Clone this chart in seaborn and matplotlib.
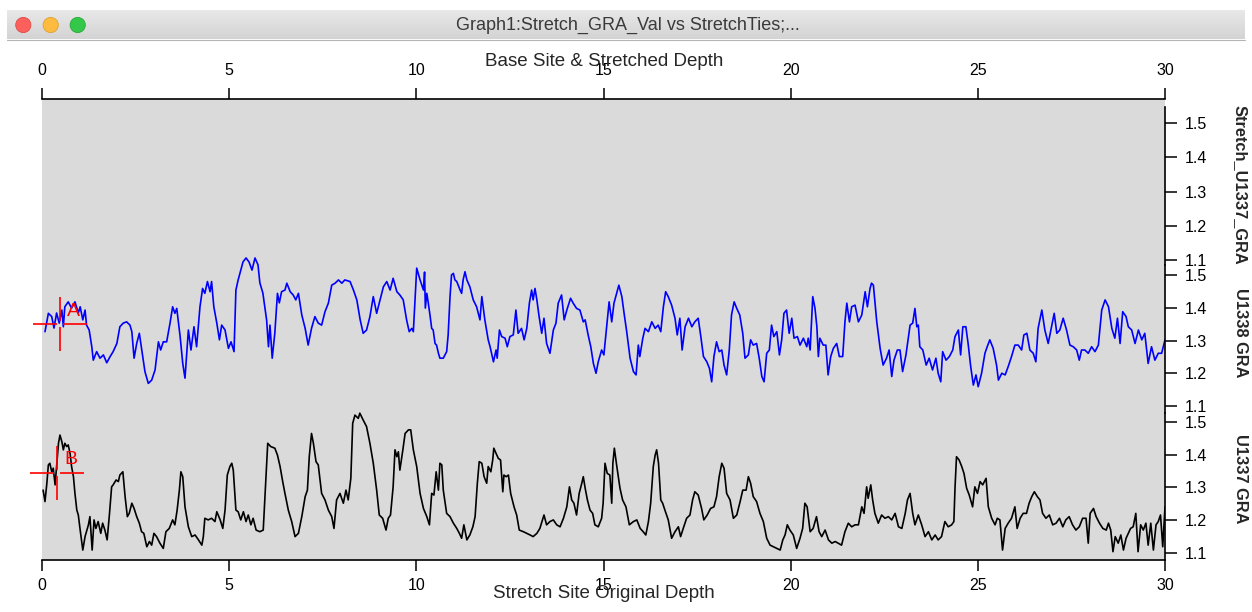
import matplotlib
matplotlib.use("Agg")
import matplotlib.pyplot as plt
from matplotlib.patches import Circle
from matplotlib.path import Path
import numpy as np
import seaborn as sns

# depth axis (both top and bottom run 0..30)
depth_ticks = [0, 5, 10, 15, 20, 25, 30]
gra_ticks = [1.1, 1.2, 1.3, 1.4, 1.5]

# U1338 GRA (blue)
blue_depth = [
    0.08,0.17,0.26,0.32,0.39,0.46,0.53,0.57,0.61,0.70,
    0.79,0.88,0.97,1.02,1.09,1.15,1.19,1.26,1.33,1.37,
    1.46,1.55,1.64,1.73,1.82,1.90,2.00,2.08,2.17,2.26,
    2.35,2.40,2.46,2.53,2.60,2.66,2.75,2.84,2.93,3.02,
    3.11,3.17,3.24,3.33,3.42,3.49,3.55,3.60,3.69,3.76,
    3.82,3.91,3.98,4.06,4.13,4.22,4.29,4.35,4.42,4.49,
    4.53,4.59,4.67,4.74,4.80,4.89,4.98,5.05,5.13,5.18,
    5.24,5.31,5.37,5.45,5.53,5.61,5.69,5.77,5.82,5.90,
    6.00,6.05,6.09,6.15,6.22,6.29,6.34,6.40,6.49,6.54,
    6.63,6.71,6.78,6.85,6.94,7.03,7.11,7.20,7.29,7.38,
    7.47,7.56,7.65,7.74,7.83,7.92,8.01,8.09,8.23,8.32,
    8.41,8.50,8.58,8.67,8.76,8.85,8.94,9.03,9.12,9.21,
    9.30,9.38,9.48,9.56,9.65,9.74,9.81,9.88,9.92,10.01,
    10.10,10.19,10.22,10.24,10.28,10.32,10.37,10.41,10.45,10.50,
    10.54,10.59,10.63,10.72,10.81,10.85,10.90,10.94,10.99,11.03,
    11.08,11.17,11.21,11.25,11.30,11.35,11.43,11.52,11.61,11.70,
    11.75,11.83,11.92,11.97,12.06,12.13,12.16,12.22,12.28,12.37,
    12.43,12.50,12.59,12.66,12.72,12.81,12.88,12.95,13.02,13.08,
    13.12,13.17,13.22,13.28,13.35,13.41,13.48,13.57,13.66,13.73,
    13.79,13.88,13.95,14.02,14.12,14.19,14.28,14.37,14.46,14.51,
    14.59,14.66,14.73,14.80,14.86,14.95,15.01,15.09,15.15,15.22,
    15.28,15.35,15.41,15.49,15.55,15.62,15.71,15.80,15.87,15.93,
    15.97,16.05,16.11,16.20,16.29,16.38,16.46,16.53,16.60,16.66,
    16.73,16.82,16.91,16.97,17.04,17.10,17.18,17.27,17.36,17.44,
    17.53,17.60,17.67,17.76,17.83,17.89,17.95,18.02,18.09,18.16,
    18.22,18.29,18.36,18.42,18.49,18.56,18.64,18.72,18.78,18.87,
    18.93,19.00,19.09,19.16,19.23,19.29,19.36,19.43,19.49,19.55,
    19.63,19.70,19.76,19.82,19.89,19.96,20.03,20.09,20.18,20.25,
    20.34,20.43,20.47,20.52,20.59,20.65,20.70,20.74,20.78,20.87,
    20.94,21.00,21.07,21.14,21.23,21.30,21.39,21.45,21.50,21.57,
    21.63,21.72,21.81,21.90,21.99,22.05,22.12,22.16,22.21,22.30,
    22.39,22.47,22.56,22.63,22.70,22.76,22.85,22.92,22.99,23.08,
    23.19,23.26,23.32,23.37,23.41,23.45,23.53,23.62,23.70,23.79,
    23.88,23.94,24.01,24.06,24.15,24.24,24.33,24.39,24.48,24.54,
    24.60,24.68,24.74,24.81,24.88,24.95,25.01,25.10,25.19,25.25,
    25.32,25.41,25.50,25.55,25.64,25.73,25.81,25.90,25.99,26.08,
    26.17,26.23,26.31,26.39,26.48,26.55,26.61,26.71,26.79,26.88,
    26.95,27.04,27.11,27.19,27.28,27.37,27.46,27.55,27.64,27.71,
    27.77,27.86,27.95,28.04,28.13,28.22,28.31,28.40,28.49,28.58,
    28.66,28.73,28.80,28.87,28.96,29.02,29.11,29.20,29.29,29.38,
    29.46,29.55,29.64,29.73,29.82,29.91,30.00]
blue_gra = [
    1.327,1.383,1.373,1.338,1.384,1.353,1.393,1.342,1.403,1.418,
    1.399,1.418,1.384,1.403,1.363,1.393,1.347,1.332,1.281,1.240,
    1.266,1.246,1.256,1.232,1.251,1.266,1.291,1.342,1.353,1.357,
    1.347,1.327,1.246,1.291,1.322,1.276,1.205,1.169,1.179,1.210,
    1.296,1.271,1.296,1.296,1.353,1.403,1.383,1.398,1.312,1.230,
    1.185,1.332,1.271,1.342,1.281,1.403,1.459,1.444,1.480,1.449,
    1.480,1.403,1.353,1.302,1.347,1.332,1.276,1.296,1.266,1.454,
    1.485,1.515,1.540,1.552,1.540,1.515,1.552,1.531,1.476,1.445,
    1.363,1.281,1.347,1.246,1.323,1.444,1.415,1.449,1.454,1.475,
    1.449,1.439,1.424,1.444,1.378,1.337,1.286,1.337,1.373,1.353,
    1.347,1.388,1.414,1.469,1.475,1.485,1.475,1.485,1.480,1.454,
    1.424,1.363,1.322,1.332,1.373,1.434,1.383,1.424,1.464,1.480,
    1.454,1.490,1.449,1.439,1.424,1.363,1.327,1.337,1.327,1.521,
    1.485,1.454,1.509,1.399,1.444,1.414,1.373,1.337,1.332,1.291,
    1.286,1.261,1.246,1.246,1.266,1.317,1.434,1.500,1.505,1.485,
    1.480,1.454,1.444,1.485,1.510,1.485,1.464,1.424,1.403,1.363,
    1.434,1.363,1.302,1.281,1.235,1.271,1.246,1.332,1.312,1.307,
    1.281,1.312,1.317,1.393,1.322,1.337,1.302,1.337,1.414,1.454,
    1.424,1.459,1.424,1.373,1.322,1.368,1.291,1.261,1.332,1.353,
    1.414,1.439,1.363,1.393,1.429,1.414,1.398,1.393,1.357,1.363,
    1.317,1.281,1.230,1.200,1.235,1.271,1.256,1.347,1.418,1.357,
    1.414,1.444,1.469,1.434,1.383,1.327,1.246,1.205,1.195,1.286,
    1.251,1.307,1.337,1.327,1.357,1.337,1.347,1.327,1.403,1.449,
    1.434,1.408,1.368,1.317,1.368,1.271,1.342,1.368,1.342,1.357,
    1.368,1.312,1.251,1.235,1.215,1.174,1.251,1.296,1.266,1.271,
    1.225,1.195,1.271,1.378,1.418,1.398,1.378,1.322,1.246,1.256,
    1.302,1.286,1.291,1.246,1.190,1.174,1.261,1.271,1.347,1.312,
    1.327,1.256,1.302,1.383,1.393,1.322,1.368,1.307,1.312,1.286,
    1.307,1.281,1.307,1.271,1.434,1.398,1.342,1.251,1.307,1.286,
    1.286,1.195,1.251,1.276,1.291,1.251,1.251,1.357,1.414,1.357,
    1.403,1.408,1.357,1.378,1.449,1.403,1.459,1.475,1.469,1.357,
    1.276,1.225,1.246,1.271,1.190,1.240,1.271,1.271,1.205,1.256,
    1.347,1.353,1.398,1.342,1.347,1.281,1.271,1.225,1.246,1.210,
    1.246,1.200,1.174,1.266,1.240,1.251,1.271,1.312,1.332,1.256,
    1.342,1.342,1.291,1.220,1.164,1.195,1.159,1.200,1.261,1.281,
    1.302,1.276,1.225,1.179,1.200,1.195,1.220,1.251,1.286,1.286,
    1.271,1.317,1.322,1.271,1.261,1.235,1.337,1.393,1.332,1.291,
    1.332,1.383,1.322,1.332,1.368,1.332,1.286,1.281,1.271,1.240,
    1.271,1.271,1.261,1.281,1.266,1.286,1.393,1.424,1.403,1.337,
    1.307,1.368,1.291,1.388,1.373,1.342,1.332,1.291,1.332,1.302,
    1.322,1.230,1.281,1.240,1.261,1.261,1.302]

# U1337 GRA (black)
black_depth = [
    0.03,0.08,0.13,0.17,0.21,0.26,0.30,0.35,0.39,0.44,
    0.48,0.53,0.57,0.61,0.66,0.70,0.75,0.79,0.84,0.88,
    0.93,0.97,1.02,1.09,1.15,1.24,1.28,1.34,1.39,1.44,
    1.50,1.57,1.62,1.68,1.74,1.80,1.86,1.90,1.98,2.04,
    2.08,2.16,2.22,2.28,2.33,2.40,2.46,2.53,2.60,2.66,
    2.72,2.80,2.87,2.93,2.99,3.06,3.15,3.24,3.31,3.40,
    3.49,3.55,3.61,3.67,3.71,3.76,3.82,3.91,4.00,4.09,
    4.18,4.27,4.31,4.35,4.44,4.53,4.62,4.67,4.76,4.83,
    4.89,4.95,5.02,5.07,5.11,5.18,5.24,5.31,5.38,5.45,
    5.51,5.58,5.64,5.72,5.82,5.91,5.98,6.03,6.11,6.22,
    6.29,6.36,6.43,6.49,6.58,6.67,6.76,6.85,6.94,7.03,
    7.09,7.14,7.20,7.25,7.32,7.38,7.47,7.56,7.65,7.74,
    7.80,7.87,7.96,8.05,8.12,8.18,8.25,8.30,8.36,8.45,
    8.49,8.58,8.67,8.76,8.85,8.94,9.01,9.10,9.19,9.25,
    9.31,9.38,9.43,9.48,9.52,9.56,9.64,9.70,9.79,9.85,
    9.92,10.01,10.10,10.19,10.28,10.35,10.41,10.47,10.53,10.59,
    10.63,10.68,10.72,10.81,10.90,10.99,11.08,11.15,11.21,11.27,
    11.35,11.43,11.51,11.57,11.63,11.68,11.75,11.81,11.88,11.92,
    11.99,12.04,12.07,12.13,12.19,12.25,12.31,12.34,12.40,12.46,
    12.52,12.61,12.68,12.75,12.86,12.95,13.04,13.12,13.22,13.30,
    13.41,13.48,13.57,13.66,13.75,13.84,13.93,14.02,14.09,14.15,
    14.21,14.28,14.35,14.42,14.46,14.51,14.57,14.64,14.71,14.77,
    14.86,14.95,14.99,15.04,15.10,15.17,15.22,15.25,15.29,15.35,
    15.44,15.51,15.60,15.69,15.80,15.89,15.98,16.06,16.13,16.20,
    16.26,16.33,16.38,16.42,16.47,16.53,16.58,16.64,16.73,16.82,
    16.91,17.00,17.06,17.13,17.22,17.31,17.38,17.44,17.53,17.62,
    17.68,17.77,17.86,17.95,18.02,18.09,18.16,18.22,18.29,18.38,
    18.47,18.56,18.65,18.72,18.81,18.87,18.93,19.00,19.09,19.18,
    19.27,19.36,19.45,19.54,19.63,19.72,19.79,19.85,19.91,19.98,
    20.07,20.16,20.25,20.32,20.38,20.44,20.52,20.60,20.69,20.76,
    20.83,20.92,21.01,21.10,21.19,21.27,21.36,21.45,21.54,21.63,
    21.72,21.81,21.90,21.96,22.03,22.07,22.14,22.19,22.25,22.34,
    22.43,22.52,22.61,22.70,22.79,22.88,22.97,23.06,23.12,23.19,
    23.26,23.32,23.41,23.50,23.59,23.68,23.77,23.86,23.94,24.03,
    24.12,24.21,24.30,24.36,24.39,24.43,24.50,24.57,24.63,24.70,
    24.77,24.86,24.92,24.99,25.06,25.13,25.22,25.28,25.37,25.46,
    25.52,25.59,25.66,25.73,25.81,25.90,25.99,26.05,26.13,26.21,
    26.30,26.37,26.44,26.51,26.59,26.66,26.73,26.82,26.91,27.00,
    27.09,27.18,27.27,27.35,27.44,27.53,27.62,27.71,27.80,27.89,
    27.95,28.00,28.09,28.16,28.25,28.34,28.43,28.49,28.55,28.61,
    28.67,28.75,28.82,28.89,28.96,29.02,29.08,29.15,29.22,29.28,
    29.35,29.42,29.49,29.55,29.62,29.69,29.76,29.82,29.88,29.94,
    30.00]
black_gra = [
    1.292,1.257,1.313,1.369,1.374,1.348,1.359,1.308,1.364,1.435,
    1.460,1.440,1.415,1.435,1.425,1.430,1.404,1.364,1.333,1.282,
    1.231,1.216,1.170,1.109,1.150,1.186,1.211,1.109,1.201,1.175,
    1.196,1.160,1.191,1.170,1.140,1.216,1.302,1.308,1.323,1.318,
    1.338,1.348,1.272,1.211,1.221,1.252,1.236,1.211,1.191,1.165,
    1.160,1.119,1.135,1.124,1.160,1.150,1.130,1.114,1.165,1.175,
    1.201,1.186,1.231,1.292,1.348,1.333,1.241,1.180,1.150,1.155,
    1.140,1.124,1.150,1.206,1.201,1.206,1.196,1.226,1.201,1.175,
    1.231,1.338,1.364,1.374,1.353,1.231,1.226,1.201,1.226,1.196,
    1.216,1.186,1.206,1.170,1.165,1.170,1.323,1.435,1.425,1.420,
    1.399,1.364,1.318,1.282,1.231,1.196,1.150,1.160,1.211,1.272,
    1.292,1.394,1.465,1.435,1.379,1.369,1.282,1.262,1.231,1.211,
    1.175,1.262,1.282,1.252,1.292,1.262,1.328,1.496,1.521,1.511,
    1.527,1.506,1.486,1.435,1.374,1.292,1.216,1.206,1.170,1.206,
    1.216,1.302,1.415,1.394,1.409,1.353,1.415,1.465,1.476,1.476,
    1.415,1.364,1.282,1.236,1.211,1.186,1.282,1.277,1.348,1.292,
    1.374,1.369,1.292,1.221,1.211,1.191,1.175,1.160,1.145,1.186,
    1.140,1.155,1.180,1.211,1.313,1.379,1.374,1.333,1.313,1.364,
    1.348,1.384,1.420,1.404,1.389,1.384,1.287,1.338,1.333,1.338,
    1.282,1.241,1.216,1.170,1.165,1.160,1.155,1.150,1.160,1.175,
    1.216,1.186,1.196,1.201,1.186,1.180,1.206,1.241,1.302,1.262,
    1.252,1.216,1.282,1.313,1.333,1.298,1.262,1.231,1.221,1.186,
    1.180,1.206,1.252,1.374,1.343,1.338,1.252,1.374,1.420,1.369,
    1.298,1.262,1.241,1.186,1.196,1.201,1.175,1.165,1.155,1.196,
    1.252,1.364,1.399,1.415,1.374,1.262,1.252,1.231,1.201,1.145,
    1.165,1.180,1.150,1.175,1.206,1.216,1.262,1.287,1.277,1.236,
    1.201,1.216,1.236,1.241,1.272,1.333,1.374,1.359,1.282,1.262,
    1.206,1.216,1.257,1.292,1.292,1.333,1.313,1.272,1.257,1.221,
    1.196,1.145,1.124,1.119,1.114,1.109,1.140,1.155,1.186,1.170,
    1.155,1.114,1.145,1.175,1.252,1.241,1.165,1.175,1.211,1.165,
    1.150,1.170,1.140,1.130,1.135,1.130,1.124,1.165,1.191,1.180,
    1.186,1.186,1.241,1.221,1.302,1.267,1.308,1.262,1.221,1.191,
    1.216,1.206,1.211,1.201,1.221,1.180,1.175,1.221,1.262,1.282,
    1.221,1.186,1.216,1.186,1.150,1.165,1.140,1.155,1.140,1.150,
    1.196,1.180,1.186,1.196,1.298,1.394,1.384,1.364,1.343,1.298,
    1.277,1.241,1.302,1.282,1.318,1.308,1.328,1.241,1.206,1.186,
    1.206,1.201,1.109,1.175,1.191,1.206,1.241,1.175,1.206,1.221,
    1.221,1.252,1.272,1.287,1.272,1.262,1.221,1.206,1.216,1.186,
    1.191,1.206,1.180,1.201,1.211,1.186,1.170,1.180,1.206,1.206,
    1.130,1.221,1.236,1.211,1.191,1.175,1.170,1.191,1.170,1.104,
    1.150,1.130,1.155,1.109,1.145,1.160,1.175,1.180,1.221,1.104,
    1.186,1.170,1.191,1.124,1.191,1.109,1.186,1.196,1.216,1.119,
    1.241]

# cursors A and B
cursor_a = (0.48, 1.350)
cursor_b = (0.40, 1.344)

sns.set_theme(style="ticks")
plt.rcParams['font.family'] = ['Liberation Sans', 'DejaVu Sans']

W, H = 1252, 612
fig = plt.figure(figsize=(W / 100, H / 100), dpi=100)
fig.patch.set_facecolor('white')


def box(x0, y0, x1, y1):
    # pixel box -> figure fraction rect
    return [x0 / W, 1 - y1 / H, (x1 - x0) / W, (y1 - y0) / H]


# window chrome (title bar)
deco = fig.add_axes([0, 0, 1, 1])
deco.set_xlim(0, W)
deco.set_ylim(H, 0)
deco.axis('off')
grad = np.linspace(0.91, 0.83, 30)[:, None, None] * np.ones((1, 1, 3))
deco.imshow(grad, extent=(7, 1245, 39, 10), aspect='auto', interpolation='bilinear')
deco.plot([7, 1245], [39.5, 39.5], color='#b4b4b4', lw=0.8)
for cx, fc, ec in [(23.3, '#fc605c', '#df4b45'), (50.7, '#fdbc40', '#dfa032'), (77.7, '#34c84a', '#27aa37')]:
    deco.add_patch(Circle((cx, 25), 7.6, fc=fc, ec=ec, lw=0.6))
deco.text(628, 25, "Graph1:Stretch_GRA_Val vs StretchTies;...", ha='center', va='center',
          fontsize=13, color='#3a3a3a')

# plot area
ax = fig.add_axes(box(42, 99, 1165, 560))
ax.set_facecolor('#dadada')
ax.grid(False)
ax.set_yticks([])
for s in ['left', 'right', 'top']:
    ax.spines[s].set_visible(False)
ax.spines['bottom'].set_color('black')
ax.spines['bottom'].set_linewidth(1.2)
ax.set_xticks(depth_ticks)
ax.tick_params(axis='x', direction='out', length=8, width=1.1, pad=5, labelsize=11.5, colors='black')

top = ax.secondary_xaxis('top')
top.set_xticks(depth_ticks)
top.spines['top'].set_color('black')
top.spines['top'].set_linewidth(1.2)
top.tick_params(axis='x', direction='out', length=8, width=1.1, pad=7, labelsize=11.5, colors='black')


def side_axis(ylim, bounds):
    t = ax.twinx()
    t.patch.set_visible(False)
    t.grid(False)
    for s in ['left', 'top', 'bottom']:
        t.spines[s].set_visible(False)
    t.spines['right'].set_color('black')
    t.spines['right'].set_linewidth(1.2)
    t.spines['right'].set_bounds(*bounds)
    t.set_ylim(*ylim)
    t.set_yticks(gra_ticks)
    t.set_yticklabels([f"{v:.1f}" for v in gra_ticks])
    t.tick_params(axis='y', direction='out', length=8.5, width=1.1, pad=5.5, labelsize=11.5, colors='black')
    return t


ax_s = side_axis((0.2241, 1.5701), (1.0854, 1.5467))   # Stretch_U1337_GRA (empty)
ax_b = side_axis((0.6298, 2.0374), (1.0786, 1.5305))   # U1338 GRA
ax_k = side_axis((1.0786, 2.4863), (1.0786, 1.5275))   # U1337 GRA

sns.lineplot(x=blue_depth, y=blue_gra, ax=ax_b, color='#0000ff', linewidth=1.2,
             estimator=None, sort=False)
sns.lineplot(x=black_depth, y=black_gra, ax=ax_k, color='black', linewidth=1.2,
             estimator=None, sort=False)

ax_b.set_ylim(0.6298, 2.0374)
ax_k.set_ylim(1.0786, 2.4863)
for a in (ax_s, ax_b, ax_k):
    a.set_ylabel('')
    a.set_xlabel('')
ax.set_xlim(0, 30)

# Igor style cursor: cross hair with a small gap in the middle
cross = Path([(-1, 0), (-0.12, 0), (0.12, 0), (1, 0), (0, -1), (0, -0.12), (0, 0.12), (0, 1)],
             [Path.MOVETO, Path.LINETO] * 4)
for a, (cx, cy), lab, off in [(ax_b, cursor_a, 'A', (10, 9)), (ax_k, cursor_b, 'B', (10, 10))]:
    a.plot([cx], [cy], marker=cross, ms=39, mew=1.2, color='#ff0000', clip_on=False, zorder=5)
    a.annotate(lab, (cx, cy), xytext=off, textcoords='offset points', color='#ff0000',
               fontsize=14, ha='center', va='center', family=['Liberation Sans', 'DejaVu Sans'])

# axis titles
fig.text(604 / W, 1 - 61 / H, 'Base Site & Stretched Depth', ha='center', va='center', fontsize=13.5)
fig.text(604 / W, 1 - 594 / H, 'Stretch Site Original Depth', ha='center', va='center', fontsize=13.5)
for txt, yc in [('Stretch_U1337_GRA', 185), ('U1338 GRA', 333), ('U1337 GRA', 479)]:
    fig.text(1240 / W, 1 - yc / H, txt, rotation=-90, ha='center', va='center',
             fontsize=11.8, fontweight='bold')

fig.savefig('out.png', dpi=100)
